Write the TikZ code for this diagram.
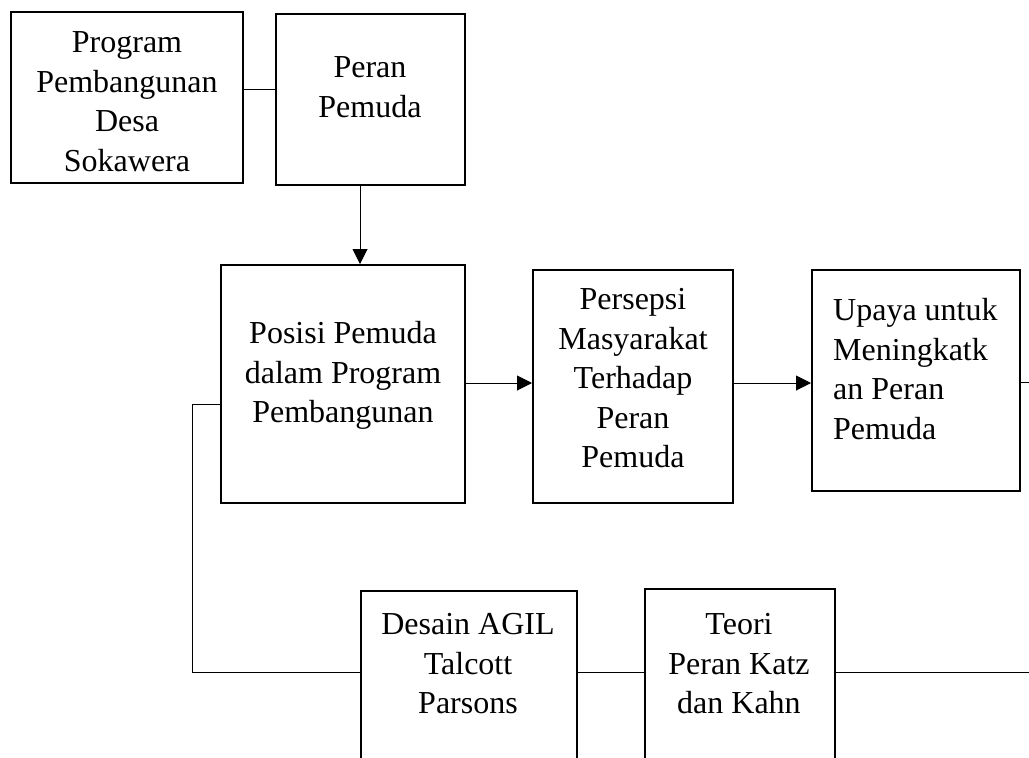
\documentclass[tikz,border=0pt]{standalone}
\usepackage{fontspec}
\setmainfont{Liberation Serif}
\usetikzlibrary{arrows.meta}
\begin{document}
\begin{tikzpicture}[x=1pt,y=-1pt,
  box/.style={draw, line width=2pt, rectangle, inner sep=0pt},
  txt/.style={font=\fontsize{32}{39.5}\selectfont, inner sep=0pt, anchor=north, align=center},
  conn/.style={line width=1pt},
  arr/.style={line width=1pt, -{Triangle[length=15pt,width=15pt]}}]
\clip (0,0) rectangle (1029,758);
\fill[white] (0,0) rectangle (1029,758);

% boxes
\node[box, minimum width=232pt, minimum height=171pt] (prog) at (127,97.5) {};
\node[box, minimum width=189pt, minimum height=171pt] (peran) at (370.5,99.5) {};
\node[box, minimum width=244pt, minimum height=238pt] (posisi) at (343,384) {};
\node[box, minimum width=200pt, minimum height=233pt] (persepsi) at (633,386.5) {};
\node[box, minimum width=208pt, minimum height=221pt] (upaya) at (916,380.5) {};
\node[box, minimum width=216pt, minimum height=209pt] (desain) at (469,695.5) {};
\node[box, minimum width=190pt, minimum height=211pt] (teori) at (740,694.5) {};

% texts
\node[txt] (t1) at (127,31.5) {Program\\Pembangunan\\Desa\\Sokawera};
\node[txt] (t2) at (370,56.5) {Peran\\Pemuda};
\node[txt] (t3) at (343,321.5) {Posisi Pemuda\\dalam Program\\Pembangunan};
\node[txt] (t4) at (633,288.5) {Persepsi\\Masyarakat\\Terhadap\\Peran\\Pemuda};
\node[txt, anchor=north west, align=left] (t5) at (833,298.5) {Upaya untuk\\Meningkatk\\an Peran\\Pemuda};
\node[txt] (t6) at (468,613.5) {Desain AGIL\\Talcott\\Parsons};
\node[txt] (t7) at (739,613.5) {Teori\\Peran Katz\\dan Kahn};

% connectors
\coordinate (l1) at (0,89);
\draw[conn] (prog.east |- l1) -- (peran.west |- l1);
\coordinate (a1) at (360,0);
\draw[arr] (peran.south -| a1) -- (posisi.north -| a1);
\coordinate (l2) at (0,383);
\draw[arr] (posisi.east |- l2) -- (persepsi.west |- l2);
\draw[arr] (persepsi.east |- l2) -- (upaya.west |- l2);
\coordinate (r1) at (1029,382);
\draw[conn] (upaya.east |- r1) -- (r1);
\coordinate (k1) at (192,404);
\coordinate (l3) at (0,672);
\draw[conn] (posisi.west |- k1) -- (k1) |- (desain.west |- l3);
\draw[conn] (desain.east |- l3) -- (teori.west |- l3);
\coordinate (r2) at (1029,672);
\draw[conn] (teori.east |- l3) -- (r2);
\end{tikzpicture}
\end{document}
